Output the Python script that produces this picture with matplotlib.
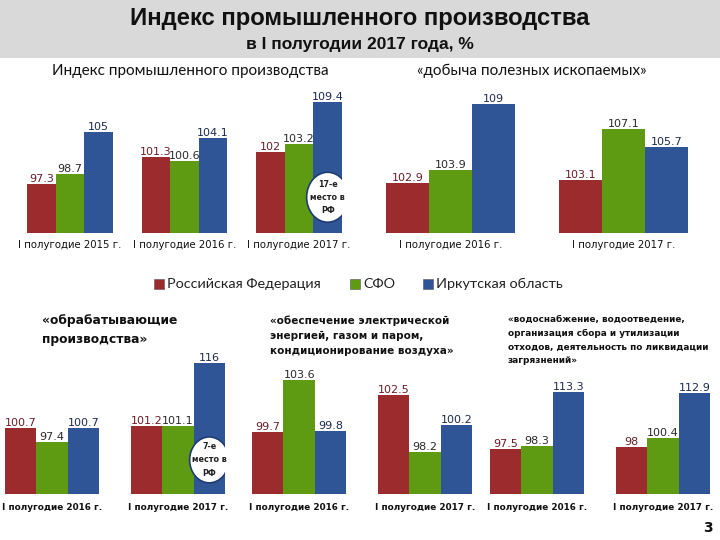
import numpy as np
import matplotlib.pyplot as plt
from matplotlib.patches import Ellipse, Rectangle

# Data
periods_main = ['I полугодие 2015 г.', 'I полугодие 2016 г.', 'I полугодие 2017 г.']
rf_main = [97.3, 101.3, 102]
sfo_main = [98.7, 100.6, 103.2]
irk_main = [105, 104.1, 109.4]

periods_mining = ['I полугодие 2016 г.', 'I полугодие 2017 г.']
rf_mining = [102.9, 103.1]
sfo_mining = [103.9, 107.1]
irk_mining = [109, 105.7]

periods_manuf = ['I полугодие 2016 г.', 'I полугодие 2017 г.']
rf_manuf = [100.7, 101.2]
sfo_manuf = [97.4, 101.1]
irk_manuf = [100.7, 116]

periods_energy = ['I полугодие 2016 г.', 'I полугодие 2017 г.']
rf_energy = [99.7, 102.5]
sfo_energy = [103.6, 98.2]
irk_energy = [99.8, 100.2]

periods_water = ['I полугодие 2016 г.', 'I полугодие 2017 г.']
rf_water = [97.5, 98]
sfo_water = [98.3, 100.4]
irk_water = [113.3, 112.9]

series_names = ['Российская Федерация', 'СФО', 'Иркутская область']

# colours
bar_colors = ['#9c2b2e', '#5f9b12', '#2f5597']
label_colors = ['#6b1c28', '#2a2a2a', '#1c2a4c']

W, H = 720, 540
fig = plt.figure(figsize=(W / 100, H / 100), dpi=100)
fig.patch.set_facecolor('white')

narrow = ['Liberation Sans Narrow', 'Liberation Sans', 'DejaVu Sans']
calibri = ['Lato', 'DejaVu Sans']


def px_rect(x0, y_top, x1, y_bottom):
    return [x0 / W, 1 - y_bottom / H, (x1 - x0) / W, (y_bottom - y_top) / H]


def fig_text(x, y, s, **kw):
    fig.text(x / W, 1 - y / H, s, **kw)


# Function to draw one block of grouped bars with its own scale
def bar_panel(rect, periods, series, ylim, cat_y, cat_bold, bold_top=False):
    ax = fig.add_axes(rect)
    centers = np.arange(len(periods)) * 4
    for k, vals in enumerate(series):
        xs = centers + (k - 1)
        ax.bar(xs, np.array(vals) - ylim[0], bottom=ylim[0], width=1.0,
               color=bar_colors[k], edgecolor='none')
        for x, v in zip(xs, vals):
            weight = 'bold' if (k == 2 and bold_top) else 'normal'
            ax.text(x, v, f'{v:g}', ha='center', va='bottom', fontsize=8,
                    color=label_colors[k], fontweight=weight,
                    family='DejaVu Sans')
    ax.set_xlim(-1.5, centers[-1] + 1.5)
    ax.set_ylim(*ylim)
    ax.axis('off')
    # period labels under the groups
    for c, p in zip(centers, periods):
        ax.annotate(p, xy=(c, ylim[0]), xycoords='data',
                    xytext=(0, -cat_y), textcoords='offset points',
                    ha='center', va='center',
                    fontsize=6.4 if cat_bold else 7.3,
                    fontweight='bold' if cat_bold else 'normal',
                    color='#111111', family='DejaVu Sans')
    return ax


def place_badge(ax, x, yc, w, h, text):
    ax.add_patch(Ellipse((x, yc), w, h, facecolor='white', edgecolor='#1f3b73',
                         linewidth=1.2, zorder=5))
    ax.text(x, yc, text, ha='center', va='center', fontsize=5.8,
            fontweight='bold', color='#222222', zorder=6, linespacing=1.6,
            family='DejaVu Sans')


# Grey header band
fig.patches.append(Rectangle((0, 1 - 58 / H), 1, 58 / H, transform=fig.transFigure,
                             facecolor='#d9d9d9', edgecolor='none', zorder=0))
fig_text(360, 19, 'Индекс промышленного производства', ha='center', va='center',
         fontsize=17.2, fontweight='bold', family=narrow, color='#111111')
fig_text(360, 45, 'в I полугодии 2017 года, %', ha='center', va='center',
         fontsize=12.5, fontweight='bold', family=narrow, color='#111111')

# Top row
fig_text(190, 71, 'Индекс промышленного производства', ha='center', va='center',
         fontsize=11, family=calibri, color='#111111')
fig_text(532, 71, '«добыча полезных ископаемых»', ha='center', va='center',
         fontsize=11, family=calibri, color='#111111')

ax_main = bar_panel(px_rect(27, 90, 342, 233), periods_main,
                    [rf_main, sfo_main, irk_main], (90, 111.19), 8.5, False)
place_badge(ax_main, 9, 95.3, 1.47, 7.4, '17-е\nместо в\nРФ')

bar_panel(px_rect(386, 90, 688, 233), periods_mining,
          [rf_mining, sfo_mining, irk_mining], (99.04, 110.08), 8.5, False)

# Legend
legend_x = [154, 350, 423]
for lx, name, col in zip(legend_x, series_names, bar_colors):
    fig.patches.append(Rectangle((lx / W, 1 - 289 / H), 10 / W, 10 / H,
                                 transform=fig.transFigure, facecolor=col,
                                 edgecolor='#555555', linewidth=0.4))
    fig_text(lx + 13, 284, name, ha='left', va='center', fontsize=10.4,
             family=calibri, color='#222222')

# Bottom row titles
fig_text(42, 330, '«обрабатывающие\nпроизводства»', ha='left', va='center',
         fontsize=8.8, fontweight='bold', family='DejaVu Sans', color='#111111',
         linespacing=1.65)
fig_text(270, 336, '«обеспечение электрической\nэнергией, газом и паром,\n'
         'кондиционирование воздуха»', ha='left', va='center', fontsize=7.5,
         fontweight='bold', family='DejaVu Sans', color='#111111', linespacing=1.6)
fig_text(508, 340, '«водоснабжение, водоотведение,\nорганизация сбора и утилизации\n'
         'отходов, деятельность по ликвидации\nзагрязнений»', ha='left', va='center',
         fontsize=6.4, fontweight='bold', family='DejaVu Sans', color='#111111',
         linespacing=1.65)

ax_manuf = bar_panel(px_rect(5, 355, 225, 494), periods_manuf,
                     [rf_manuf, sfo_manuf, irk_manuf], (85.17, 117.9), 9.5, True)
place_badge(ax_manuf, 5, 93.2, 1.25, 10.8, '7-е\nместо в\nРФ')

bar_panel(px_rect(252, 355, 472, 494), periods_energy,
          [rf_energy, sfo_energy, irk_energy], (95.05, 105.48), 9.5, True)

bar_panel(px_rect(490, 355, 710, 494), periods_water,
          [rf_water, sfo_water, irk_water], (85.03, 123.5), 9.5, True)

# Slide number
fig_text(708, 528, '3', ha='center', va='center', fontsize=10, fontweight='bold',
         family='DejaVu Sans', color='#111111')

fig.savefig('out.png', dpi=100)
